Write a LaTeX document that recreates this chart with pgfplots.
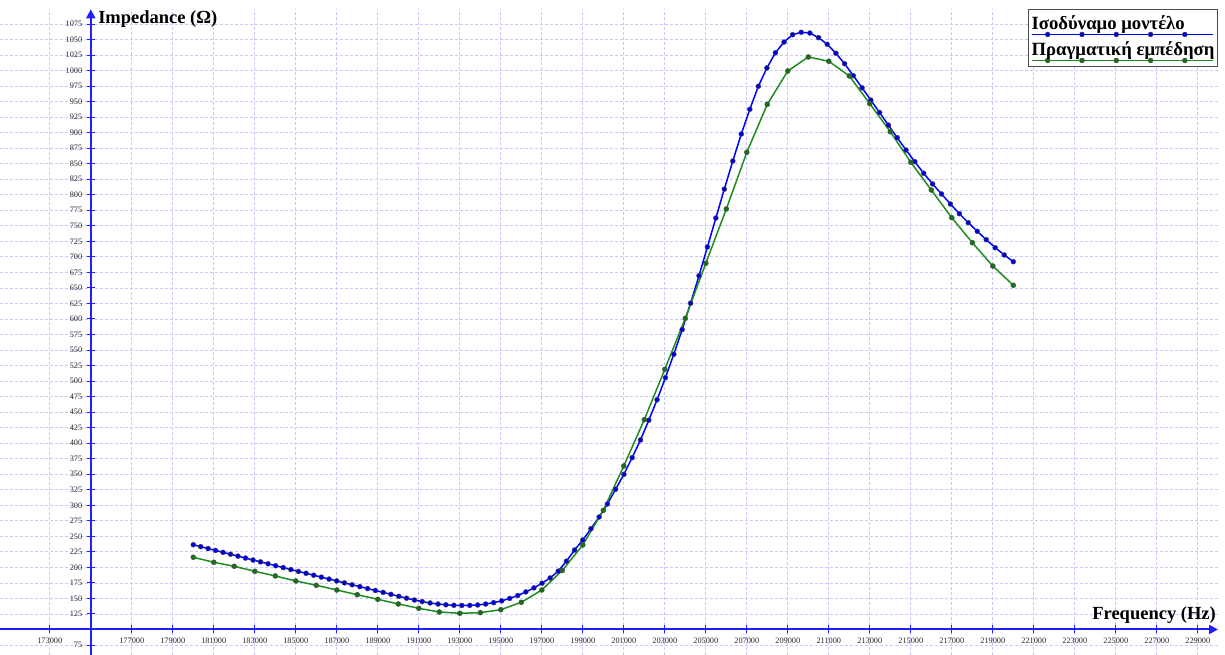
\documentclass[border=0pt]{standalone}
\usepackage{fontspec}
\setmainfont{Liberation Serif}
\usepackage{pgfplots}
\usepackage{pgfplotstable}
\pgfplotsset{compat=1.18}
\usetikzlibrary{arrows.meta}

\definecolor{axblue}{RGB}{30,30,255}
\definecolor{gridc}{RGB}{200,200,255}
\definecolor{mblue}{RGB}{0,0,255}
\definecolor{mgreen}{RGB}{30,140,30}

% Equivalent model (101 log-spaced points)
\pgfplotstableread{
f z
180000 236.5
180362 233.4
180724 230.4
181087 227.3
181451 224.2
181815 221.2
182180 218.1
182546 215.0
182913 211.9
183280 208.9
183649 205.8
184018 202.7
184387 199.7
184758 196.6
185129 193.5
185501 190.5
185873 187.4
186247 184.3
186621 181.2
186995 178.2
187371 175.1
187747 172.0
188125 169.0
188502 165.9
188881 162.8
189261 159.8
189641 156.6
190022 153.5
190403 150.4
190786 147.5
191169 144.9
191553 142.7
191938 141.0
192323 139.8
192710 139.0
193097 138.7
193485 138.8
193873 139.5
194263 141.0
194653 143.2
195044 146.2
195436 150.0
195828 154.8
196222 160.5
196616 167.0
197011 174.5
197407 183.0
197803 194.0
198201 210.0
198599 228.0
198998 244.1
199397 262.3
199798 281.2
200199 302.1
200601 325.8
201004 349.9
201408 376.7
201813 405.2
202218 436.9
202624 470.0
203031 505.5
203439 543.2
203848 583.0
204257 625.5
204668 669.7
205079 716.0
205491 762.6
205903 809.1
206317 854.4
206731 897.9
207147 937.7
207563 974.7
207980 1004.2
208398 1028.8
208816 1046.0
209236 1057.8
209656 1061.7
210077 1060.5
210499 1053.0
210922 1042.4
211346 1027.9
211770 1011.1
212195 991.8
212622 972.3
213049 952.5
213477 932.5
213906 912.2
214335 892.0
214766 872.1
215197 853.3
215629 834.6
216063 817.4
216497 801.3
216931 785.2
217367 769.6
217804 755.1
218241 741.2
218680 727.7
219119 714.8
219559 703.1
220000 692.3
}\modeltab

% Measured impedance
\pgfplotstableread{
f z
180000 216.3
181000 208.2
182000 201.8
183000 193.7
184000 186.2
185000 178.1
186000 171.2
187000 163.6
188000 156.0
189000 148.6
190000 141.1
191000 134.1
192000 128.2
193000 126.1
194000 127.1
195000 131.9
196000 143.8
197000 163.6
198000 195.0
199000 236.1
200000 291.9
201000 363.3
202000 437.9
203000 519.0
204000 601.1
205000 689.7
206000 777.1
207000 868.4
208000 945.7
209000 999.4
210000 1021.9
211000 1015.0
212000 991.3
213000 946.7
214000 901.6
215000 852.3
216000 807.7
217000 763.1
218000 722.9
219000 685.3
220000 654.3
}\meastab

\begin{document}
\begin{tikzpicture}
\begin{axis}[
  name=ax,
  scale only axis,
  width=1218pt, height=645.7pt,
  xmin=-4429, xmax=54985,
  ymin=-41.06, ymax=998.7,
  axis lines=middle,
  axis line style={draw=axblue, line width=2pt, -{Triangle[width=9pt,length=9pt]}},
  clip=false,
  scaled x ticks=false, scaled y ticks=false,
  xtick={-2000,2000,4000,6000,8000,10000,12000,14000,16000,18000,20000,22000,24000,26000,28000,30000,32000,34000,36000,38000,40000,42000,44000,46000,48000,50000,52000,54000},
  xticklabels={173000,177000,179000,181000,183000,185000,187000,189000,191000,193000,195000,197000,199000,201000,203000,205000,207000,209000,211000,213000,215000,217000,219000,221000,223000,225000,227000,229000},
  ytick={-25,25,50,75,100,125,150,175,200,225,250,275,300,325,350,375,400,425,450,475,500,525,550,575,600,625,650,675,700,725,750,775,800,825,850,875,900,925,950,975},
  yticklabels={75,125,150,175,200,225,250,275,300,325,350,375,400,425,450,475,500,525,550,575,600,625,650,675,700,725,750,775,800,825,850,875,900,925,950,975,1000,1025,1050,1075},
  tick align=center,
  major tick length=8pt,
  tick style={draw=axblue, line width=1pt},
  ticklabel style={font=\fontsize{8.3}{8.3}\selectfont, text=black!85},
  /pgf/number format/assume math mode=true,
  xticklabel style={anchor=north, yshift=-1pt},
  yticklabel style={anchor=east, xshift=-1pt},
  grid=major,
  major grid style={draw=gridc, line width=0.8pt, dash pattern=on 3pt off 2pt},
  xlabel={\textbf{Frequency (Hz)}},
  ylabel={\textbf{Impedance (Ω)}},
  every axis x label/.style={at={(rel axis cs:0.99836,0.0542)}, anchor=base east, inner sep=0pt, font=\fontsize{18.5}{18.5}\selectfont},
  every axis y label/.style={at={(rel axis cs:0.0805,0.9783)}, anchor=base west, inner sep=0pt, font=\fontsize{18.5}{18.5}\selectfont},
  legend style={at={(rel axis cs:1.0,1.0005)}, anchor=north east,
    draw=black!70, line width=1pt, fill=white,
    inner xsep=3pt, inner ysep=3pt, row sep=1pt,
    nodes={inner xsep=0pt, inner ysep=0pt, text height=17.3pt, text depth=7.7pt,
      font=\bfseries\fontsize{18.7}{18.7}\selectfont},
    cells={anchor=west}},
  legend image code/.code={
    \draw[#1, overlay, mark indices={2,3,4,5,6}] plot coordinates {(0pt,-9.5pt) (16pt,-9.5pt) (50.3pt,-9.5pt) (84.6pt,-9.5pt) (118.9pt,-9.5pt) (153.2pt,-9.5pt) (181pt,-9.5pt)};
  },
]
\addplot[color=mblue, line width=1.5pt, mark=*, mark size=2.5pt,
  mark options={fill=mblue!85!black, draw=black!70, line width=0.4pt}]
  table[x expr=\thisrow{f}-175000, y expr=\thisrow{z}-100] {\modeltab};
\addlegendentry{Ισοδύναμο μοντέλο}
\addplot[color=mgreen, line width=1.5pt, mark=*, mark size=2.5pt,
  mark options={fill=mgreen!80!black, draw=black!70, line width=0.4pt}]
  table[x expr=\thisrow{f}-175000, y expr=\thisrow{z}-100] {\meastab};
\addlegendentry{Πραγματική εμπέδηση}
\coordinate (BBsw) at (rel axis cs:0,0);
\coordinate (BBne) at (rel axis cs:1.005747,1.0144);
\end{axis}
\pgfresetboundingbox
\useasboundingbox (BBsw) rectangle (BBne);
\end{tikzpicture}
\end{document}
